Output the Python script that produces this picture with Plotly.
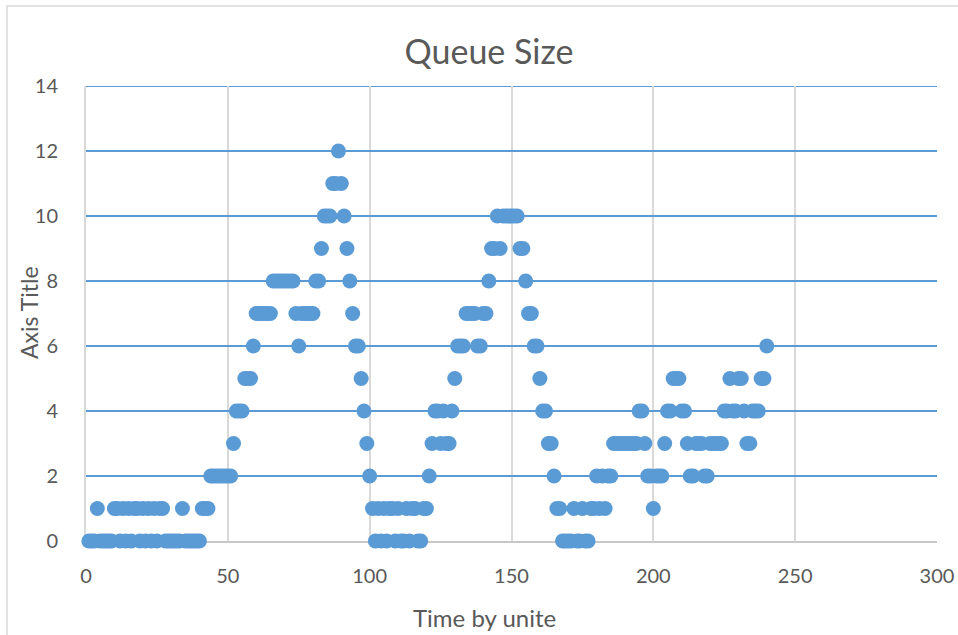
import plotly.graph_objects as go

# Simulated queue length sampled once per time unit
time_units = list(range(1, 241))
queue_size = [
    0, 0, 0, 1, 0, 0, 0, 0, 0, 1,
    1, 0, 1, 0, 1, 0, 1, 1, 0, 1,
    0, 1, 0, 1, 0, 1, 1, 0, 0, 0,
    0, 0, 0, 1, 0, 0, 0, 0, 0, 0,
    1, 1, 1, 2, 2, 2, 2, 2, 2, 2,
    2, 3, 4, 4, 4, 5, 5, 5, 6, 7,
    7, 7, 7, 7, 7, 8, 8, 8, 8, 8,
    8, 8, 8, 7, 6, 7, 7, 7, 7, 7,
    8, 8, 9, 10, 10, 10, 11, 11, 12, 11,
    10, 9, 8, 7, 6, 6, 5, 4, 3, 2,
    1, 0, 1, 0, 1, 0, 1, 1, 0, 1,
    0, 0, 1, 0, 1, 1, 0, 0, 1, 1,
    2, 3, 4, 4, 3, 4, 3, 3, 4, 5,
    6, 6, 6, 7, 7, 7, 7, 6, 6, 7,
    7, 8, 9, 9, 10, 9, 10, 10, 10, 10,
    10, 10, 9, 9, 8, 7, 7, 6, 6, 5,
    4, 4, 3, 3, 2, 1, 1, 0, 0, 0,
    0, 1, 0, 0, 1, 0, 0, 1, 1, 2,
    1, 2, 1, 2, 2, 3, 3, 3, 3, 3,
    3, 3, 3, 3, 4, 4, 3, 2, 2, 1,
    2, 2, 2, 3, 4, 4, 5, 5, 5, 4,
    4, 3, 2, 2, 3, 3, 3, 2, 2, 3,
    3, 3, 3, 3, 4, 4, 5, 4, 4, 5,
    5, 4, 3, 3, 4, 4, 4, 5, 5, 6,
]

x_ticks = [0, 50, 100, 150, 200, 250, 300]
y_ticks = [0, 2, 4, 6, 8, 10, 12, 14]

BLUE = "#5B9BD5"
TEXT = "#595959"
GRAY = "#D9D9D9"
FONT = "Lato, 'Open Sans', sans-serif"

W, H = 958, 635
L, R, T, B = 86, 21, 86, 94

fig = go.Figure(
    go.Scatter(
        x=time_units,
        y=queue_size,
        mode="markers",
        marker=dict(size=15, color=BLUE, line=dict(width=0)),
        cliponaxis=False,
        showlegend=False,
    )
)

fig.update_layout(
    width=W,
    height=H,
    paper_bgcolor="white",
    plot_bgcolor="white",
    margin=dict(l=L, r=R, t=T, b=B),
    font=dict(family=FONT, color=TEXT, size=20),
    title=dict(
        text="Queue Size",
        x=489 / W,
        xanchor="center",
        xref="container",
        y=1 - 52 / H,
        yanchor="middle",
        font=dict(family=FONT, size=34, color=TEXT),
    ),
    shapes=[
        # chart-area frame
        dict(
            type="rect",
            xref="paper",
            yref="paper",
            x0=(7 - L) / (W - L - R),
            x1=1.2,
            y0=-0.4,
            y1=(H - B - 6) / (H - T - B),
            line=dict(color=GRAY, width=1.5),
            layer="below",
        ),
        # gridline on the top edge of the value axis
        dict(
            type="line",
            xref="paper",
            yref="y",
            x0=0,
            x1=1,
            y0=y_ticks[-1],
            y1=y_ticks[-1],
            line=dict(color=BLUE, width=2),
            layer="below",
        ),
    ],
    annotations=[
        dict(
            text="Axis Title",
            xref="paper",
            yref="paper",
            x=(29 - L) / (W - L - R),
            y=(H - B - 313) / (H - T - B),
            xanchor="center",
            yanchor="middle",
            textangle=-90,
            showarrow=False,
            font=dict(family=FONT, size=23, color=TEXT),
        ),
        dict(
            text="Time by unite",
            xref="paper",
            yref="paper",
            x=(484 - L) / (W - L - R),
            y=(H - B - 617) / (H - T - B),
            xanchor="center",
            yanchor="middle",
            showarrow=False,
            font=dict(family=FONT, size=24, color=TEXT),
        ),
    ],
)

fig.update_xaxes(
    range=[0, 300],
    tickvals=x_ticks,
    ticktext=[str(v) for v in x_ticks],
    showgrid=True,
    gridcolor=GRAY,
    gridwidth=2,
    zeroline=False,
    showline=True,
    linecolor="#C8C8C8",
    linewidth=2,
    ticks="outside",
    ticklen=16,
    tickcolor="rgba(0,0,0,0)",
    tickfont=dict(size=20, color=TEXT),
    layer="below traces",
    automargin=False,
)

fig.update_yaxes(
    range=[0, 14],
    tickvals=y_ticks,
    ticktext=[str(v) for v in y_ticks],
    showgrid=True,
    gridcolor=BLUE,
    gridwidth=2,
    zeroline=False,
    showline=True,
    linecolor=GRAY,
    linewidth=2,
    ticks="outside",
    ticklen=22,
    tickcolor="rgba(0,0,0,0)",
    tickfont=dict(size=20, color=TEXT),
    layer="below traces",
    automargin=False,
)

fig.write_html("out.html")
